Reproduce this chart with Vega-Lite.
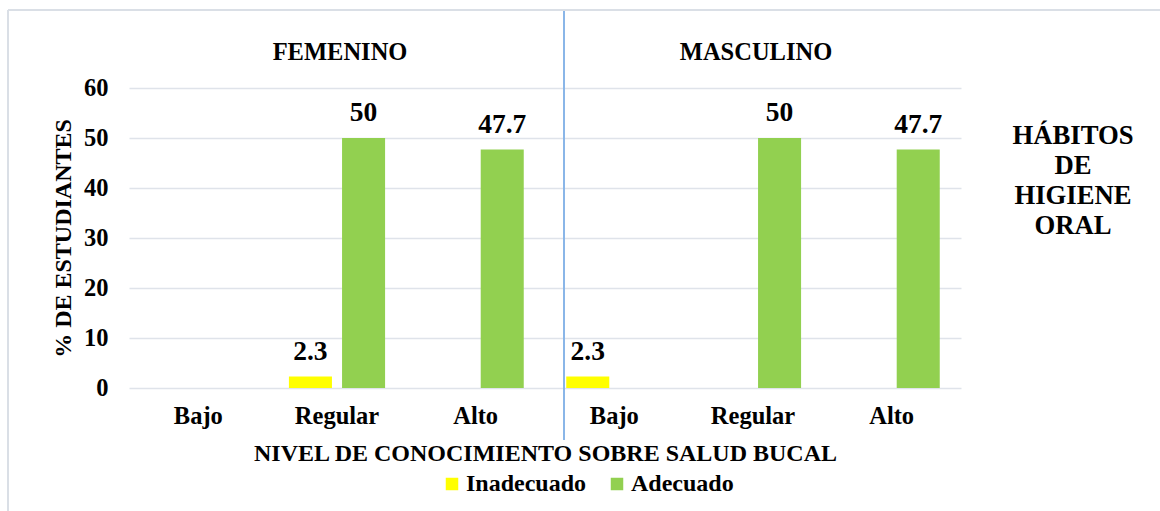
{
  "$schema": "https://vega.github.io/schema/vega-lite/v6.json",
  "width": 832,
  "height": 300,
  "autosize": {"type": "none"},
  "padding": {"left": 129, "top": 88, "right": 199, "bottom": 123},
  "background": "white",
  "config": {
    "view": {"stroke": null},
    "font": "Liberation Serif",
    "axis": {
      "labelFont": "Liberation Serif",
      "labelFontWeight": "bold",
      "labelFontSize": 24.5,
      "labelColor": "#000000",
      "titleFont": "Liberation Serif",
      "titleFontWeight": "bold",
      "titleFontSize": 24,
      "titleColor": "#000000",
      "domain": false,
      "ticks": false,
      "tickSize": 0
    },
    "legend": {
      "labelFont": "Liberation Serif",
      "labelFontWeight": "bold",
      "labelFontSize": 24,
      "labelColor": "#000000"
    }
  },
  "datasets": {
    "main": [
      {"cat": "F-Bajo", "serie": "Inadecuado", "value": 0},
      {"cat": "F-Bajo", "serie": "Adecuado", "value": 0},
      {"cat": "F-Regular", "serie": "Inadecuado", "value": 2.3},
      {"cat": "F-Regular", "serie": "Adecuado", "value": 50},
      {"cat": "F-Alto", "serie": "Inadecuado", "value": 0},
      {"cat": "F-Alto", "serie": "Adecuado", "value": 47.7},
      {"cat": "M-Bajo", "serie": "Inadecuado", "value": 2.3},
      {"cat": "M-Bajo", "serie": "Adecuado", "value": 0},
      {"cat": "M-Regular", "serie": "Inadecuado", "value": 0},
      {"cat": "M-Regular", "serie": "Adecuado", "value": 50},
      {"cat": "M-Alto", "serie": "Inadecuado", "value": 0},
      {"cat": "M-Alto", "serie": "Adecuado", "value": 47.7}
    ],
    "headers": [
      {"cat": "F-Regular", "g": "FEMENINO"},
      {"cat": "M-Regular", "g": "MASCULINO"}
    ]
  },
  "data": {"name": "main"},
  "layer": [
    {
      "mark": {"type": "bar", "clip": false},
      "encoding": {
        "x": {
          "field": "cat",
          "type": "nominal",
          "scale": {"domain": ["F-Bajo", "F-Regular", "F-Alto", "M-Bajo", "M-Regular", "M-Alto"], "paddingInner": 0, "paddingOuter": 0},
          "axis": {
            "title": "NIVEL DE CONOCIMIENTO SOBRE SALUD BUCAL",
            "labelExpr": "split(datum.value, '-')[1]",
            "labelAngle": 0,
            "labelBaseline": "alphabetic",
            "labelPadding": 35,
            "titleX": 416,
            "titleY": 72,
            "titleAlign": "center",
            "titleBaseline": "alphabetic"
          }
        },
        "xOffset": {
          "field": "serie",
          "type": "nominal",
          "scale": {"domain": ["Inadecuado", "Adecuado"], "paddingInner": 0.19, "paddingOuter": 0.4}
        },
        "y": {
          "field": "value",
          "type": "quantitative",
          "scale": {"domain": [0, 60], "nice": false},
          "axis": {
            "title": "% DE ESTUDIANTES",
            "values": [0, 10, 20, 30, 40, 50, 60],
            "gridColor": "#dfe3ea",
            "gridWidth": 1.3,
            "labelPadding": 21,
            "titleAngle": -90,
            "titleX": -66,
            "titleY": 150,
            "titleAlign": "center",
            "titleBaseline": "middle"
          }
        },
        "color": {
          "field": "serie",
          "type": "nominal",
          "scale": {"domain": ["Inadecuado", "Adecuado"], "range": ["#FFFF00", "#92D050"]},
          "legend": {
            "title": null,
            "orient": "none",
            "direction": "horizontal",
            "legendX": 311,
            "legendY": 384,
            "symbolType": "square",
            "symbolSize": 156,
            "symbolStrokeWidth": 0,
            "labelOffset": 2,
            "columnPadding": 18,
            "padding": 0
          }
        }
      }
    },
    {
      "transform": [{"filter": "datum.value > 0"}],
      "mark": {
        "type": "text",
        "baseline": "alphabetic",
        "dy": -17,
        "fontSize": 27.5,
        "fontWeight": "bold",
        "font": "Liberation Serif",
        "color": "#000000"
      },
      "encoding": {
        "x": {"field": "cat", "type": "nominal"},
        "xOffset": {"field": "serie", "type": "nominal"},
        "y": {"field": "value", "type": "quantitative"},
        "text": {"field": "value", "type": "quantitative", "format": ".1~f"}
      }
    },
    {
      "data": {"values": [{"k": 1}]},
      "mark": {"type": "rule", "stroke": "#8AB6E8", "strokeWidth": 2, "clip": false},
      "encoding": {
        "x": {"datum": "M-Bajo", "type": "nominal", "bandPosition": 0.137},
        "y": {"datum": 75.6, "type": "quantitative"},
        "y2": {"datum": -10.4}
      }
    },
    {
      "data": {"values": [{"k": 1}]},
      "mark": {"type": "rule", "stroke": "#dadfe6", "strokeWidth": 2, "clip": false},
      "encoding": {
        "x": {"datum": "F-Bajo", "type": "nominal", "bandPosition": -0.8726},
        "y": {"datum": 75.6, "type": "quantitative"},
        "y2": {"datum": -30}
      }
    },
    {
      "data": {"values": [{"k": 1}]},
      "mark": {"type": "rule", "stroke": "#dadfe6", "strokeWidth": 2, "clip": false},
      "encoding": {
        "x": {"datum": "F-Bajo", "type": "nominal", "bandPosition": -0.8726},
        "x2": {"datum": "M-Alto", "bandPosition": 2.5},
        "y": {"datum": 75.6, "type": "quantitative"}
      }
    },
    {
      "data": {"name": "headers"},
      "mark": {
        "type": "text",
        "baseline": "alphabetic",
        "align": "center",
        "dx": 3,
        "fontSize": 24.5,
        "fontWeight": "bold",
        "font": "Liberation Serif",
        "color": "#000000"
      },
      "encoding": {
        "x": {"field": "cat", "type": "nominal"},
        "y": {"datum": 65.6, "type": "quantitative"},
        "text": {"field": "g"}
      }
    },
    {
      "data": {"values": [{"t": ["HÁBITOS", "DE", "HIGIENE", "ORAL"]}]},
      "mark": {
        "type": "text",
        "baseline": "alphabetic",
        "align": "center",
        "lineHeight": 30,
        "fontSize": 26.7,
        "fontWeight": "bold",
        "font": "Liberation Serif",
        "color": "#000000"
      },
      "encoding": {
        "x": {"datum": "M-Alto", "type": "nominal", "bandPosition": 1.808},
        "y": {"datum": 48.9, "type": "quantitative"},
        "text": {"field": "t"}
      }
    }
  ]
}
